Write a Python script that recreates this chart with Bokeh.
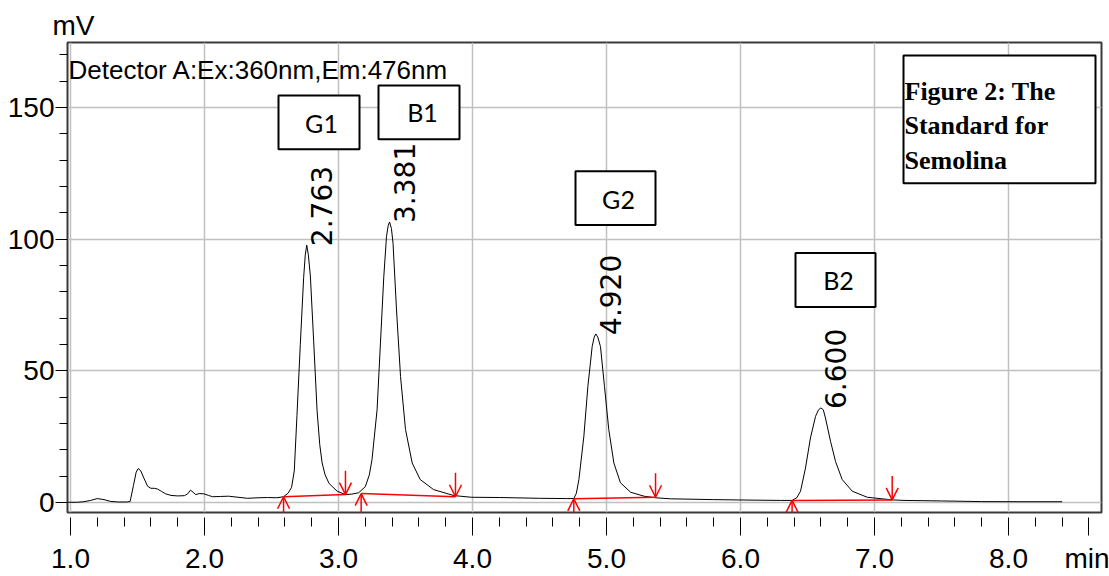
import numpy as np
from bokeh.plotting import figure
from bokeh.models import (ColumnDataSource, Range1d, SingleIntervalTicker, FixedTicker,
                          CustomJSTickFormatter, BoxAnnotation, Label, Arrow, OpenHead)
from bokeh.core.properties import value
from bokeh.embed import file_html
from bokeh.resources import INLINE

# ---------------- data ----------------
time_min = [0.98, 1.05, 1.10, 1.15, 1.20, 1.25, 1.30, 1.36, 1.42, 1.445, 1.47, 1.49, 1.505, 1.525,
            1.55, 1.575, 1.60, 1.625, 1.65, 1.68, 1.71, 1.75, 1.80, 1.85, 1.875, 1.895, 1.915, 1.935,
            1.96, 1.995, 2.03, 2.06, 2.12, 2.18, 2.25, 2.32, 2.40, 2.47, 2.54, 2.59, 2.625, 2.65,
            2.67, 2.69, 2.715, 2.74, 2.752, 2.763, 2.775, 2.79, 2.815, 2.84, 2.86, 2.878, 2.90, 2.93,
            2.99, 3.052, 3.10, 3.15, 3.20, 3.23, 3.25, 3.288, 3.313, 3.338, 3.358, 3.371, 3.381, 3.395,
            3.407, 3.433, 3.463, 3.50, 3.55, 3.61, 3.71, 3.86, 3.99, 4.20, 4.50, 4.70, 4.756, 4.775,
            4.794, 4.831, 4.861, 4.893, 4.908, 4.920, 4.935, 4.955, 4.985, 5.017, 5.055, 5.104, 5.18,
            5.28, 5.366, 5.48, 5.80, 6.10, 6.30, 6.385, 6.42, 6.448, 6.485, 6.522, 6.56, 6.582, 6.600,
            6.618, 6.634, 6.672, 6.709, 6.759, 6.834, 6.946, 7.132, 7.22, 7.50, 7.80, 8.10, 8.40]
signal_mV = [0.1, 0.1, 0.3, 0.8, 1.5, 1.1, 0.4, 0.2, 0.2, 0.4, 6.5, 11.5, 12.9, 12.0,
             9.0, 6.2, 5.4, 5.4, 5.1, 4.2, 3.3, 2.7, 2.5, 2.6, 3.3, 4.7, 3.9, 3.0,
             3.4, 3.3, 2.7, 2.2, 2.3, 2.4, 2.0, 1.6, 1.8, 1.9, 1.8, 2.2, 3.6, 5.8,
             12.0, 33.0, 60.0, 85.5, 94.0, 97.7, 94.0, 86.0, 61.0, 35.0, 22.0, 15.0, 10.5, 7.2,
             4.3, 3.0, 3.2, 3.7, 6.0, 10.5, 16.3, 35.2, 60.5, 85.7, 100.9, 105.2, 106.5, 104.0,
             98.4, 73.1, 47.8, 27.7, 15.0, 8.7, 4.9, 2.65, 2.0, 1.9, 1.6, 1.5, 1.5, 3.5,
             8.7, 25.1, 44.0, 59.2, 62.8, 64.0, 62.8, 59.2, 44.0, 27.7, 15.0, 7.5, 3.9,
             2.4, 1.8, 1.4, 1.1, 0.9, 0.8, 0.8, 1.8, 4.3, 13.1, 24.5, 32.7, 35.2, 35.9,
             35.2, 32.1, 23.2, 15.6, 8.7, 4.3, 2.0, 1.0, 0.8, 0.6, 0.35, 0.3, 0.3]

peak_names = ["G1", "B1", "G2", "B2"]
peak_rt = [2.763, 3.381, 4.920, 6.600]
peak_mV = [97.7, 106.5, 64.0, 35.9]

base_t0 = [2.59, 3.169, 4.756, 6.385]
base_v0 = [2.2, 3.4, 1.4, 0.8]
base_t1 = [3.052, 3.873, 5.366, 7.132]
base_v1 = [3.0, 2.2, 2.0, 1.0]

x_major_ticks = [1.0, 2.0, 3.0, 4.0, 5.0, 6.0, 7.0, 8.0]
x_minor_ticks = [1.2, 1.4, 1.6, 1.8, 2.2, 2.4, 2.6, 2.8, 3.2, 3.4, 3.6, 3.8, 4.2, 4.4, 4.6, 4.8,
                 5.2, 5.4, 5.6, 5.8, 6.2, 6.4, 6.6, 6.8, 7.2, 7.4, 7.6, 7.8, 8.2, 8.4]
x_unit_pos = 8.6          # the "min" unit label sits in the tick-label row here
detector_text = "Detector A:Ex:360nm,Em:476nm"
figure_caption = ["Figure 2: The", "Standard for", "Semolina"]
x_unit, y_unit = "min", "mV"

# ---------------- layout (page pixels -> data) ----------------
W, H = 1109, 576
FRAME_L, FRAME_R, FRAME_T, FRAME_B = 67, 1101, 42, 513
X0 = 1 + (FRAME_L - 70) / 134.0
X1 = 1 + (FRAME_R - 70) / 134.0
Y0 = (503 - FRAME_B) / 2.64
Y1 = (503 - FRAME_T) / 2.64


def dx(px):
    return X0 + (px - FRAME_L) * (X1 - X0) / (FRAME_R - FRAME_L)


def dy(py):
    return Y1 - (py - FRAME_T) * (Y1 - Y0) / (FRAME_B - FRAME_T)


MV_PER_PX = (Y1 - Y0) / (FRAME_B - FRAME_T)
SANS = "Liberation Sans"

p = figure(width=W, height=H, x_range=Range1d(X0, X1), y_range=Range1d(Y0, Y1),
           output_backend="svg", toolbar_location=None,
           min_border_left=FRAME_L, min_border_right=W - FRAME_R,
           min_border_top=FRAME_T, min_border_bottom=H - FRAME_B)
p.background_fill_color = "white"
p.border_fill_color = "white"
p.outline_line_color = "#3a3a3a"
p.outline_line_width = 2

# y unit as title at top-left
p.title.text = y_unit
p.title.align = "left"
p.title.offset = -15
p.title.standoff = 4
p.title.text_font = SANS
p.title.text_font_style = "normal"
p.title.text_font_size = "28px"
p.title.text_color = "black"

# x axis
xa = p.xaxis[0]
xa.ticker = FixedTicker(ticks=x_major_ticks + [x_unit_pos], minor_ticks=x_minor_ticks)
xa.formatter = CustomJSTickFormatter(
    args=dict(unit=x_unit, upos=x_unit_pos),
    code="return Math.abs(tick - upos) < 1e-6 ? unit : tick.toFixed(1);")
xa.axis_line_color = None
xa.major_tick_in = -5
xa.major_tick_out = 23
xa.minor_tick_in = -5
xa.minor_tick_out = 14
xa.major_tick_line_color = "black"
xa.minor_tick_line_color = "black"
xa.major_label_standoff = 7
xa.major_label_text_font = SANS
xa.major_label_text_font_size = "28px"
xa.major_label_text_color = "black"

# y axis
ya = p.yaxis[0]
ya.ticker = SingleIntervalTicker(interval=50, num_minor_ticks=5)
ya.axis_line_color = None
ya.major_tick_in = 0
ya.major_tick_out = 12
ya.minor_tick_in = 0
ya.minor_tick_out = 8
ya.major_tick_line_color = "black"
ya.minor_tick_line_color = "black"
ya.major_label_standoff = 1
ya.major_label_text_font = SANS
ya.major_label_text_font_size = "28px"
ya.major_label_text_color = "black"

p.xgrid[0].ticker = FixedTicker(ticks=x_major_ticks)
for g in (p.xgrid[0], p.ygrid[0]):
    g.grid_line_color = "#c0c0c0"
    g.grid_line_width = 1.5

# trace
p.line(time_min, signal_mV, line_color="black", line_width=1)

# integration baselines
p.segment(base_t0, base_v0, base_t1, base_v1, line_color="red", line_width=1.5)

ARROW_MV = 24 * MV_PER_PX
up_src = ColumnDataSource(dict(x0=base_t0, y0=[v - ARROW_MV for v in base_v0], x1=base_t0, y1=base_v0))
dn_src = ColumnDataSource(dict(x0=base_t1, y0=[v + ARROW_MV for v in base_v1], x1=base_t1, y1=base_v1))
for src in (up_src, dn_src):
    p.add_layout(Arrow(end=OpenHead(size=12, line_color="red", line_width=1.5),
                       x_start="x0", y_start="y0", x_end="x1", y_end="y1",
                       line_color="red", line_width=1.5, source=src))

# retention-time labels
p.text(x=peak_rt, y=peak_mV, text=[f"{t:.3f}" for t in peak_rt], angle=np.pi / 2,
       x_offset=15, y_offset=1, text_font=value("DejaVu Sans"), text_font_size="28px",
       text_align="left", text_baseline="alphabetic", text_color="black")

# peak name boxes (page-pixel boxes: left, right, top, bottom, text centre x, y)
name_boxes = [(278, 359, 95, 149, 321, 123),
              (378, 459, 85, 139, 422, 112),
              (575, 655, 171, 225, 618, 199),
              (795, 875, 253, 307, 838, 280)]
for name, (l, r, t, b, cx, cy) in zip(peak_names, name_boxes):
    p.add_layout(BoxAnnotation(left=dx(l), right=dx(r), top=dy(t), bottom=dy(b),
                               fill_color="white", fill_alpha=1, line_color="black",
                               line_width=2, line_alpha=1))
    p.add_layout(Label(x=dx(cx), y=dy(cy), text=name, text_font="Lato", text_font_size="25px",
                       text_align="center", text_baseline="middle", text_color="black"))

# figure caption box
p.add_layout(BoxAnnotation(left=dx(903), right=dx(1095), top=dy(55), bottom=dy(183),
                           fill_color="white", fill_alpha=1, line_color="black",
                           line_width=2, line_alpha=1))
for line, base in zip(figure_caption, [91.5, 125.5, 160.5]):
    p.add_layout(Label(x=dx(904), y=dy(base), text=line, text_font="Liberation Serif",
                       text_font_style="bold", text_font_size="26px", text_align="left",
                       text_baseline="alphabetic", text_color="black"))

# detector text
p.add_layout(Label(x=dx(68), y=dy(70), text=detector_text, text_font=SANS,
                   text_font_size="26px", text_align="left", text_baseline="alphabetic",
                   text_color="black"))

open("out.html", "w").write(file_html(p, INLINE))
